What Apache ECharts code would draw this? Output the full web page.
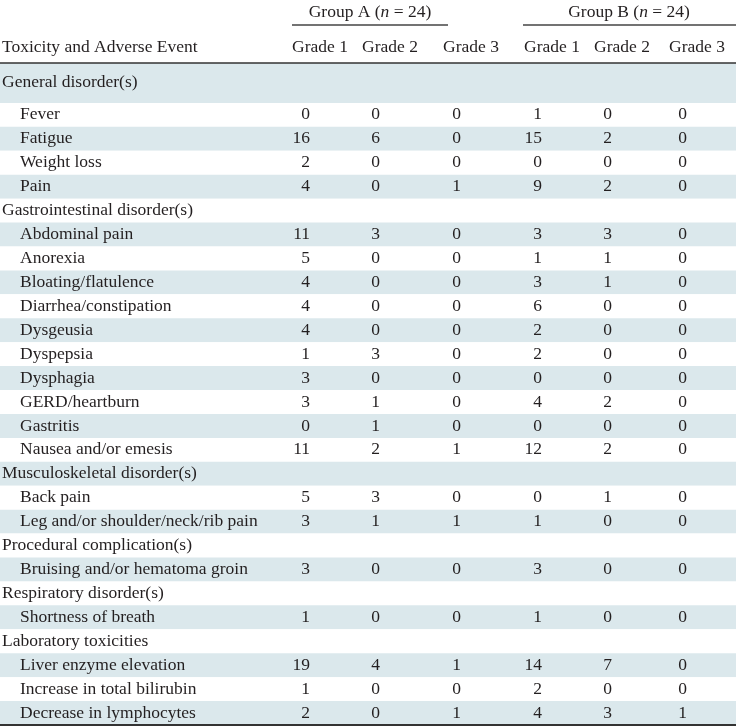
<!DOCTYPE html>
<html>
<head>
<meta charset="utf-8">
<script src="https://cdn.jsdelivr.net/npm/echarts@6/dist/echarts.min.js"></script>
<style>
html,body{margin:0;padding:0;background:#fff;}
#chart{width:736px;height:727px;}
</style>
</head>
<body>
<div id="chart"></div>
<script>
// ---- data ----
const rowLabels = [
  'General disorder(s)','Fever','Fatigue','Weight loss','Pain',
  'Gastrointestinal disorder(s)','Abdominal pain','Anorexia','Bloating/flatulence','Diarrhea/constipation',
  'Dysgeusia','Dyspepsia','Dysphagia','GERD/heartburn','Gastritis','Nausea and/or emesis',
  'Musculoskeletal disorder(s)','Back pain','Leg and/or shoulder/neck/rib pain',
  'Procedural complication(s)','Bruising and/or hematoma groin',
  'Respiratory disorder(s)','Shortness of breath',
  'Laboratory toxicities','Liver enzyme elevation','Increase in total bilirubin','Decrease in lymphocytes'
];
const rowLevel = [0,1,1,1,1, 0,1,1,1,1,1,1,1,1,1,1, 0,1,1, 0,1, 0,1, 0,1,1,1];
const groupA_grade1 = [null,0,16,2,4, null,11,5,4,4,4,1,3,3,0,11, null,5,3, null,3, null,1, null,19,1,2];
const groupA_grade2 = [null,0,6,0,0, null,3,0,0,0,0,3,0,1,1,2, null,3,1, null,0, null,0, null,4,0,0];
const groupA_grade3 = [null,0,0,0,1, null,0,0,0,0,0,0,0,0,0,1, null,0,1, null,0, null,0, null,1,0,1];
const groupB_grade1 = [null,1,15,0,9, null,3,1,3,6,2,2,0,4,0,12, null,0,1, null,3, null,1, null,14,2,4];
const groupB_grade2 = [null,0,2,0,2, null,3,1,1,0,0,0,0,2,0,2, null,1,0, null,0, null,0, null,7,0,3];
const groupB_grade3 = [null,0,0,0,0, null,0,0,0,0,0,0,0,0,0,0, null,0,0, null,0, null,0, null,0,0,1];
const gradeLabels = ['Grade 1','Grade 2','Grade 3','Grade 1','Grade 2','Grade 3'];
const groupTitles = ['Group A', 'Group B'];
const groupN = [24, 24];
const firstColTitle = 'Toxicity and Adverse Event';

// ---- layout (not data) ----
const W = 736;
const colRight = [310, 380, 461, 542, 612, 687];   // right edge of numbers in each column
const headLeftOffset = 18;                          // header starts this far left of number right edge
const groupCenter = [370, 629];
const groupLine = [[292, 448], [523, 736]];
const FONT = '"Liberation Serif", "DejaVu Serif", serif';
const FS = 17.5;
const TXT = '#231f20';
const SHADE = '#dbe8ec';
const gridTop = 79, gridBottom = 2, headerLineY = 63;

const columns = [groupA_grade1, groupA_grade2, groupA_grade3, groupB_grade1, groupB_grade2, groupB_grade3];

const yData = rowLabels.map((name, i) => {
  const pad = [0, 0, 0, rowLevel[i] ? 18 : 0];
  return { value: name, textStyle: { padding: pad, align: 'left', verticalAlign: i === 0 ? 'bottom' : 'middle', fontFamily: FONT, fontSize: FS, color: TXT } };
});

const series = columns.map((col, c) => ({
  type: 'scatter',
  symbolSize: 0,
  silent: true,
  itemStyle: { opacity: 1 },
  data: col.map((v, r) => v === null ? null : [colRight[c], r, v]).filter(d => d),
  encode: { x: 0, y: 1 },
  label: {
    show: true, position: 'left', distance: 0, align: 'right', verticalAlign: 'middle',
    formatter: p => String(p.value[2]),
    color: TXT, fontFamily: FONT, fontSize: FS, textBorderWidth: 0, opacity: 1
  },
  emphasis: { disabled: true },
  z: 5
}));

const graphics = [];
graphics.push({ type: 'rect', shape: { x: 0, y: headerLineY, width: W, height: gridTop - headerLineY }, style: { fill: SHADE }, z: -1, silent: true });
graphics.push({ type: 'line', shape: { x1: 0, y1: headerLineY, x2: W, y2: headerLineY }, style: { stroke: '#333', lineWidth: 1.5 }, silent: true });
groupTitles.forEach((t, g) => {
  graphics.push({
    type: 'text', x: groupCenter[g], y: 12, silent: true,
    style: {
      text: '{t|' + t + ' (}{i|n}{t| = ' + groupN[g] + ')}',
      align: 'center', verticalAlign: 'middle',
      rich: {
        t: { fontFamily: FONT, fontSize: FS, fill: TXT },
        i: { fontFamily: FONT, fontSize: FS, fontStyle: 'italic', fill: TXT }
      }
    }
  });
  graphics.push({ type: 'line', shape: { x1: groupLine[g][0], y1: 25, x2: groupLine[g][1], y2: 25 }, style: { stroke: '#444', lineWidth: 1.5 }, silent: true });
});
gradeLabels.forEach((t, c) => {
  graphics.push({
    type: 'text', x: colRight[c] - headLeftOffset, y: 47, silent: true,
    style: { text: t, align: 'left', verticalAlign: 'middle', fontFamily: FONT, fontSize: FS, fill: TXT }
  });
});
graphics.push({
  type: 'text', x: 2, y: 47, silent: true,
  style: { text: firstColTitle, align: 'left', verticalAlign: 'middle', fontFamily: FONT, fontSize: FS, fill: TXT }
});

const chart = echarts.init(document.getElementById('chart'), null, { renderer: 'canvas' });
chart.setOption({
  animation: false,
  backgroundColor: '#fff',
  grid: { left: 0, right: 0, top: gridTop, bottom: gridBottom, containLabel: false, outerBoundsMode: 'none' },
  xAxis: {
    type: 'value', min: 0, max: W,
    axisLine: { show: true, onZero: false, lineStyle: { color: '#333', width: 2 } },
    axisTick: { show: false }, axisLabel: { show: false }, splitLine: { show: false }
  },
  yAxis: {
    type: 'category', inverse: true, data: yData,
    axisLine: { show: false }, axisTick: { show: false }, splitLine: { show: false },
    splitArea: { show: true, areaStyle: { color: [SHADE, '#ffffff'] } },
    axisLabel: {
      show: true, interval: 0, align: 'left', margin: -2, hideOverlap: false,
      fontFamily: FONT, fontSize: FS, color: TXT
    }
  },
  graphic: graphics,
  series: series
});
</script>
</body>
</html>
